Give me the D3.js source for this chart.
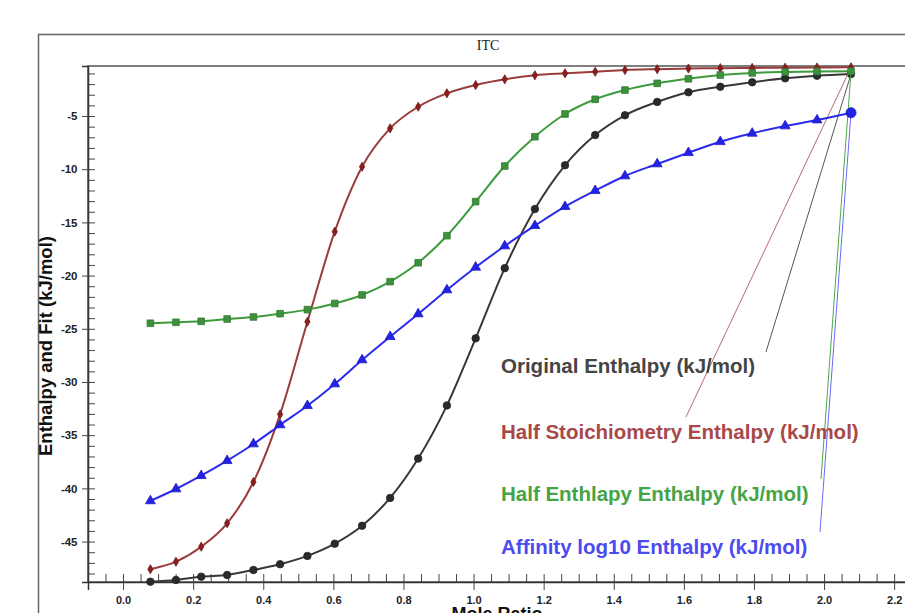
<!DOCTYPE html>
<html>
<head>
<meta charset="utf-8">
<script src="https://cdn.jsdelivr.net/npm/d3@7"></script>
<style>
  html, body { margin: 0; padding: 0; background: #fff; }
  svg { display: block; }
</style>
</head>
<body>
<div id="chart"></div>
<script>
// mole ratio of each injection
const moleRatio = [0.078, 0.151, 0.223, 0.297, 0.372, 0.448, 0.526, 0.604, 0.682, 0.762,
  0.842, 0.924, 1.006, 1.089, 1.175, 1.261, 1.347, 1.432, 1.524, 1.613,
  1.704, 1.795, 1.889, 1.980, 2.077];

const original = [-48.77, -48.61, -48.30, -48.14, -47.67, -47.13, -46.35, -45.20, -43.51, -40.9,
  -37.2, -32.2, -25.9, -19.3, -13.74, -9.63, -6.79, -4.93, -3.68, -2.77,
  -2.25, -1.83, -1.46, -1.21, -1.05];

const halfStoich = [-47.60, -46.89, -45.48, -43.28, -39.40, -33.04, -24.34, -15.87, -9.77, -6.16,
  -4.13, -2.87, -2.09, -1.55, -1.17, -0.99, -0.84, -0.68, -0.60, -0.54,
  -0.50, -0.48, -0.46, -0.44, -0.42];

const halfEnthalpy = [-24.48, -24.39, -24.30, -24.08, -23.89, -23.58, -23.20, -22.62, -21.82, -20.57,
  -18.79, -16.25, -13.05, -9.70, -6.95, -4.81, -3.43, -2.56, -1.93, -1.50,
  -1.15, -0.95, -0.86, -0.81, -0.79];

const affinity = [-41.18, -40.06, -38.81, -37.40, -35.83, -34.04, -32.23, -30.19, -27.93, -25.74,
  -23.61, -21.35, -19.22, -17.22, -15.31, -13.52, -12.02, -10.64, -9.51, -8.45,
  -7.42, -6.63, -5.94, -5.38, -4.69];

const seriesNames = [
  'Original Enthalpy (kJ/mol)',
  'Half Stoichiometry Enthalpy (kJ/mol)',
  'Half Enthlapy Enthalpy (kJ/mol)',
  'Affinity log10 Enthalpy (kJ/mol)'
];

const xMajorTicks = [0.0, 0.2, 0.4, 0.6, 0.8, 1.0, 1.2, 1.4, 1.6, 1.8, 2.0, 2.2];
const yMajorTicks = [-5, -10, -15, -20, -25, -30, -35, -40, -45];

const width = 905, height = 613;

const svg = d3.select('#chart')
  .append('svg')
  .attr('width', width)
  .attr('height', height)
  .style('font-family', 'Arial, "Liberation Sans", sans-serif');

// outer frame
svg.append('rect')
  .attr('x', 38.5).attr('y', 34.5)
  .attr('width', 900).attr('height', 620)
  .attr('fill', 'none')
  .attr('stroke', '#666')
  .attr('stroke-width', 1.5);

svg.append('text')
  .attr('x', 488).attr('y', 50)
  .attr('text-anchor', 'middle')
  .style('font-family', '"Times New Roman", "Liberation Serif", serif')
  .style('font-size', '14px')
  .attr('fill', '#222')
  .text('ITC');

const x = d3.scaleLinear().domain([-0.1, 2.3]).range([88, 929.2]);
const y = d3.scaleLinear().domain([-0.3, -48.8]).range([66, 582]);

// plot frame
svg.append('rect')
  .attr('x', 88).attr('y', 66)
  .attr('width', 860).attr('height', 516)
  .attr('fill', 'none')
  .attr('stroke', '#555')
  .attr('stroke-width', 1.5);

// y axis
const yMinor = d3.range(-1, -49, -1);
svg.append('g')
  .attr('transform', 'translate(88,0)')
  .call(d3.axisLeft(y).tickValues(yMinor).tickSize(-7).tickFormat(''))
  .call(g => g.select('.domain').remove())
  .call(g => g.selectAll('line').attr('stroke', '#444'));

svg.append('g')
  .attr('transform', 'translate(88,0)')
  .call(d3.axisLeft(y).tickValues(yMajorTicks).tickSize(6).tickPadding(4.5).tickFormat(d => String(d)))
  .call(g => g.select('.domain').attr('stroke', '#333').attr('stroke-width', 1.5))
  .call(g => g.selectAll('line').attr('stroke', '#444'))
  .call(g => g.selectAll('text')
    .style('font-size', '11.5px').style('font-weight', 'bold').attr('fill', '#222'));

// x axis
const xMinor = d3.range(-0.05, 2.3, 0.05);
svg.append('g')
  .attr('transform', 'translate(0,582)')
  .call(d3.axisBottom(x).tickValues(xMinor).tickSize(-8).tickFormat(''))
  .call(g => g.select('.domain').remove())
  .call(g => g.selectAll('line').attr('stroke', '#444'));

svg.append('g')
  .attr('transform', 'translate(0,582)')
  .call(d3.axisBottom(x).tickValues(xMajorTicks).tickSize(8).tickPadding(6).tickFormat(d => d.toFixed(1)))
  .call(g => g.select('.domain').attr('stroke', '#333').attr('stroke-width', 1.5))
  .call(g => g.selectAll('line').attr('stroke', '#444'))
  .call(g => g.selectAll('text')
    .style('font-size', '11px').style('font-weight', 'bold').attr('fill', '#222'));

svg.append('text')
  .attr('x', 497).attr('y', 620)
  .attr('text-anchor', 'middle')
  .style('font-size', '18px').style('font-weight', 'bold')
  .attr('fill', '#111')
  .text('Mole Ratio');

svg.append('text')
  .attr('transform', 'translate(52,346) rotate(-90)')
  .attr('text-anchor', 'middle')
  .style('font-size', '18.5px').style('font-weight', 'bold')
  .attr('fill', '#111')
  .text('Enthalpy and Fit (kJ/mol)');

const series = [
  { name: seriesNames[0], values: original, line: '#383838', mark: '#2a2a2a', text: '#454545',
    symbol: d3.symbolCircle, size: 44, lead: '#555', label: [501, 373], anchor: [766, 352] },
  { name: seriesNames[1], values: halfStoich, line: '#9a3c3c', mark: '#8a1e1e', text: '#a84848',
    symbol: d3.symbolDiamond, size: 24, lead: '#b86a6a', label: [501, 439], anchor: [686, 417] },
  { name: seriesNames[2], values: halfEnthalpy, line: '#3c9c3c', mark: '#3d913d', text: '#46a446',
    symbol: d3.symbolSquare, size: 44, lead: '#4aaa4a', label: [501, 501], anchor: [821, 479] },
  { name: seriesNames[3], values: affinity, line: '#2b2bf0', mark: '#2222e6', text: '#4b4bf0',
    symbol: d3.symbolTriangle, size: 42, lead: '#6a6af5', label: [501, 554], anchor: [820, 532] }
];

const line = d3.line()
  .x(d => x(d[0]))
  .y(d => y(d[1]))
  .curve(d3.curveMonotoneX);

const plot = svg.append('g');

series.forEach(s => {
  const pts = moleRatio.map((m, i) => [m, s.values[i]]);
  const last = pts[pts.length - 1];

  // leader line to label
  plot.append('line')
    .attr('x1', x(last[0])).attr('y1', y(last[1]))
    .attr('x2', s.anchor[0]).attr('y2', s.anchor[1])
    .attr('stroke', s.lead)
    .attr('stroke-width', 1);

  plot.append('path')
    .datum(pts)
    .attr('d', line)
    .attr('fill', 'none')
    .attr('stroke', s.line)
    .attr('stroke-width', 2);

  plot.selectAll(null)
    .data(pts)
    .enter()
    .append('path')
    .attr('transform', d => `translate(${x(d[0])},${y(d[1])})`)
    .attr('d', (d, i) => {
      if (i === pts.length - 1 && s.symbol === d3.symbolTriangle) {
        return d3.symbol(d3.symbolCircle, 80)();
      }
      return d3.symbol(s.symbol, s.size)();
    })
    .attr('fill', s.mark)
    .attr('stroke', d3.color(s.mark).darker(0.5))
    .attr('stroke-width', 0.8);

  svg.append('text')
    .attr('x', s.label[0]).attr('y', s.label[1])
    .style('font-size', '20.5px').style('font-weight', 'bold')
    .attr('fill', s.text)
    .text(s.name);
});
</script>
</body>
</html>
